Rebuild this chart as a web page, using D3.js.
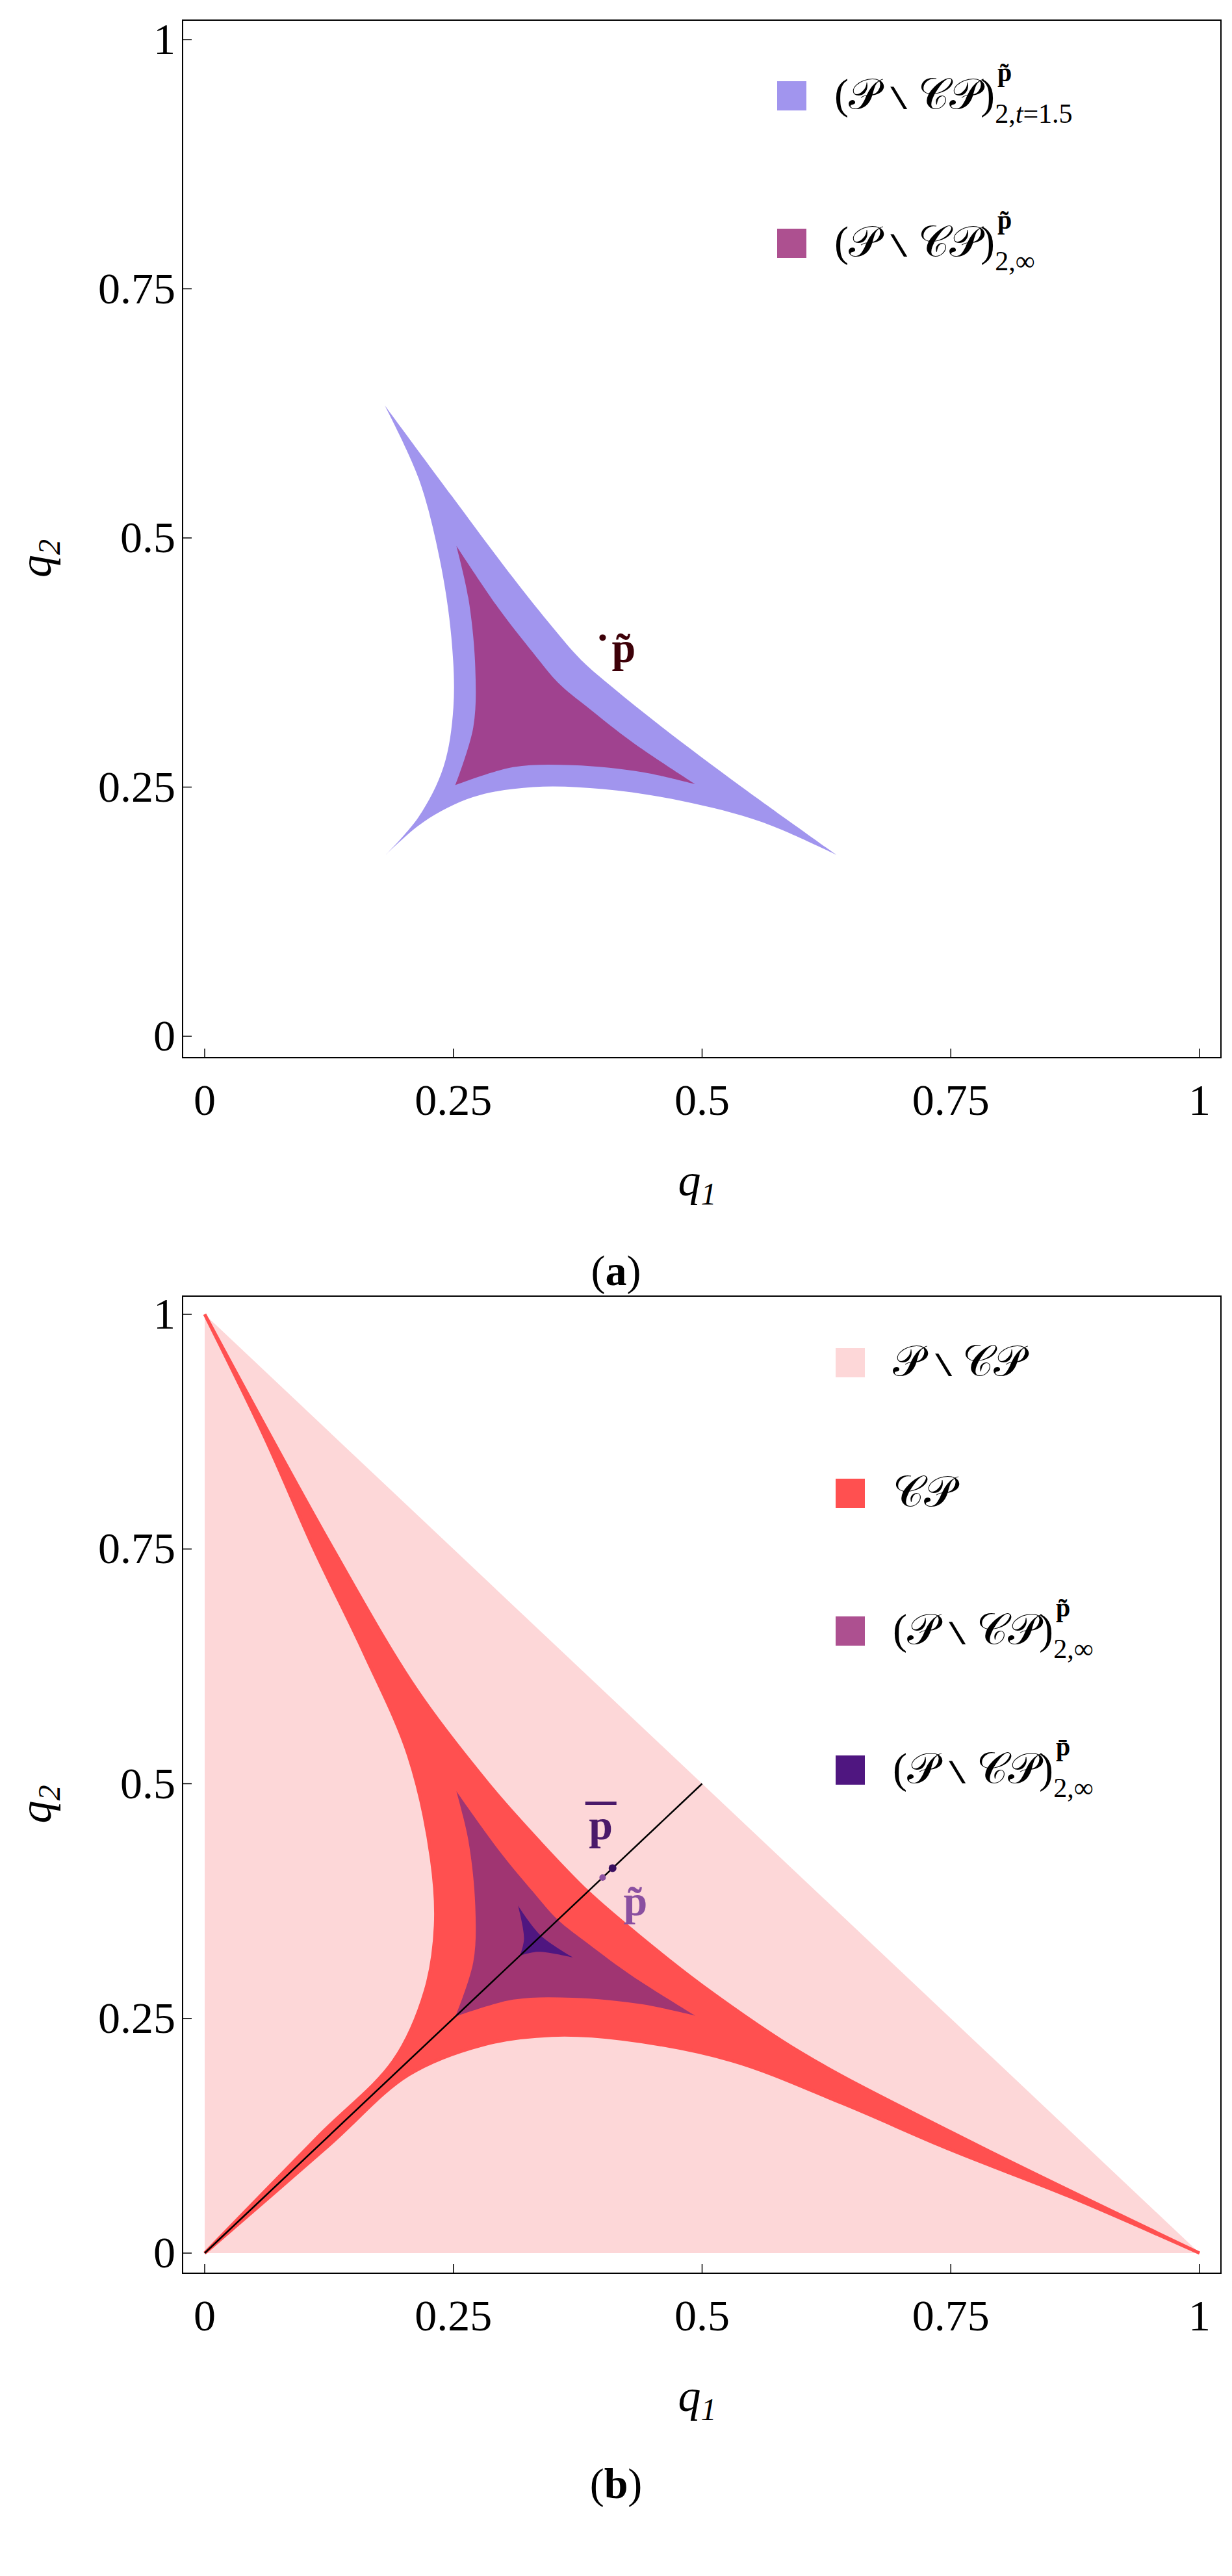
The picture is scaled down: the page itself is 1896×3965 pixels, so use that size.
<!DOCTYPE html>
<html><head><meta charset="utf-8">
<script src="https://cdn.jsdelivr.net/npm/d3@7"></script>
<style>body{margin:0;background:#fff}text{font-family:"Liberation Serif","DejaVu Serif",serif}</style>
</head><body>
<svg id="c" width="1896" height="3965"></svg>
<script>
// tick values
const ticks = [0, 0.25, 0.5, 0.75, 1];
const tickLabels = ["0", "0.25", "0.5", "0.75", "1"];

// region outlines, each as three edges running tip to tip
const blueEdges = [
  [[0.181,0.633],[0.215,0.56],[0.236,0.48],[0.248,0.40],[0.25,0.33],[0.24,0.27],[0.215,0.22],[0.181,0.181]],
  [[0.181,0.181],[0.22,0.215],[0.27,0.24],[0.33,0.25],[0.40,0.248],[0.48,0.236],[0.56,0.215],[0.635,0.182]],
  [[0.635,0.182],[0.54,0.25],[0.46,0.31],[0.41,0.35],[0.378,0.378],[0.35,0.41],[0.31,0.46],[0.25,0.54],[0.181,0.633]]
];
const purpleEdges = [
  [[0.253,0.492],[0.265,0.44],[0.272,0.37],[0.27,0.31],[0.252,0.252]],
  [[0.252,0.252],[0.31,0.27],[0.37,0.272],[0.44,0.265],[0.493,0.253]],
  [[0.493,0.253],[0.43,0.295],[0.385,0.33],[0.355,0.355],[0.33,0.385],[0.295,0.43],[0.253,0.492]]
];
const darkEdges = [
  [[0.315,0.370],[0.321,0.335],[0.317,0.317]],
  [[0.317,0.317],[0.335,0.321],[0.370,0.315]],
  [[0.370,0.315],[0.338,0.338],[0.315,0.370]]
];
const redEdges = [
  [[0,1],[0.06,0.87],[0.11,0.75],[0.16,0.64],[0.205,0.53],[0.228,0.42],[0.232,0.349],[0.222,0.28],[0.19,0.205],[0.115,0.125],[0,0]],
  [[0,0],[0.125,0.115],[0.205,0.19],[0.28,0.222],[0.349,0.232],[0.42,0.228],[0.53,0.205],[0.64,0.16],[0.75,0.11],[0.87,0.06],[1,0]],
  [[1,0],[0.75,0.129],[0.6,0.213],[0.5,0.285],[0.44,0.335],[0.385,0.385],[0.335,0.44],[0.285,0.5],[0.213,0.6],[0.129,0.75],[0,1]]
];
const simplex = [[0,0],[1,0],[0,1]];
const diagLine = [[0,0],[0.5,0.5]];
const pTilde = [0.4, 0.4];
const pBar = [0.41, 0.41];

const svg = d3.select("#c");

function panel(yTop, yBot, frameTop, frameBot) {
  const x = d3.scaleLinear().domain([0,1]).range([315,1846]);
  const y = d3.scaleLinear().domain([0,1]).range([yBot,yTop]);
  const g = svg.append("g");
  const edgeLine = d3.line().x(d=>x(d[0])).y(d=>y(d[1])).curve(d3.curveCatmullRom);
  const region = edges => edges.map((e,i)=>{ const s = edgeLine(e); return i ? "L" + s.slice(1) : s; }).join("") + "Z";
  g.append("rect").attr("x",281).attr("y",frameTop).attr("width",1879-281).attr("height",frameBot-frameTop)
    .attr("fill","none").attr("stroke","#000").attr("stroke-width",2);
  ticks.forEach((t,i)=>{
    g.append("line").attr("x1",281).attr("x2",295).attr("y1",y(t)).attr("y2",y(t)).attr("stroke","#000").attr("stroke-width",1.5);
    g.append("line").attr("x1",x(t)).attr("x2",x(t)).attr("y1",frameBot).attr("y2",frameBot-14).attr("stroke","#000").attr("stroke-width",1.5);
    g.append("text").attr("x",270).attr("y",y(t)+22).attr("text-anchor","end").attr("font-size",68).text(tickLabels[i]);
    g.append("text").attr("x",x(t)).attr("y",frameBot+88).attr("text-anchor","middle").attr("font-size",68).text(tickLabels[i]);
  });
  g.append("text").attr("x",1073).attr("y",frameBot+212).attr("text-anchor","middle").attr("font-size",70).attr("font-style","italic")
    .html('q<tspan font-size="48" dy="14">1</tspan>');
  g.append("text").attr("transform",`translate(78,${(frameTop+frameBot)/2+30}) rotate(-90)`).attr("text-anchor","middle").attr("font-size",70).attr("font-style","italic")
    .html('q<tspan font-size="48" dy="14">2</tspan>');
  return {g, x, y, region};
}

function legend(g, lx, ly, color, main, sup, sub) {
  g.append("rect").attr("x",lx).attr("y",ly).attr("width",45).attr("height",45).attr("fill",color);
  const t = g.append("text").attr("x",lx+88).attr("y",ly+42).attr("font-size",66);
  t.append("tspan").text(main);
  if (sup) {
    t.append("tspan").attr("font-size",40).attr("font-weight","bold").attr("dy",-42).attr("dx",4).text(sup);
    t.append("tspan").attr("font-size",42).attr("dy",64).attr("dx",-26).html(sub);
  }
}
const setLabel = "(𝒫 ∖ 𝒞𝒫)";

// panel (a)
const A = panel(61, 1595, 31, 1628);
A.g.append("path").attr("d",A.region(blueEdges)).attr("fill","#a195ee");
A.g.append("path").attr("d",A.region(purpleEdges)).attr("fill","#a0428f");
A.g.append("circle").attr("cx",A.x(pTilde[0])).attr("cy",A.y(pTilde[1])).attr("r",5).attr("fill","#3d0008");
A.g.append("text").attr("x",A.x(pTilde[0])+14).attr("y",A.y(pTilde[1])+38).attr("font-size",66).attr("font-weight","bold").attr("fill","#3d0008").text("p̃");
legend(A.g, 1196, 125, "#a195ee", setLabel, "p̃", '2,<tspan font-style="italic">t</tspan>=1.5');
legend(A.g, 1196, 352, "#ad5090", setLabel, "p̃", "2,∞");
svg.append("text").attr("x",948).attr("y",1978).attr("text-anchor","middle").attr("font-size",66).html('(<tspan font-weight="bold">a</tspan>)');

// panel (b)
const B = panel(2023, 3468, 1995, 3499);
B.g.append("path").attr("d",d3.line().x(d=>B.x(d[0])).y(d=>B.y(d[1]))(simplex)+"Z").attr("fill","#fdd7d8");
B.g.append("path").attr("d",B.region(redEdges)).attr("fill","#ff5050").attr("stroke","#ff5050").attr("stroke-width",5).attr("stroke-linejoin","miter");
B.g.append("path").attr("d",B.region(purpleEdges)).attr("fill","#a03572");
B.g.append("path").attr("d",B.region(darkEdges)).attr("fill","#4f1680");
B.g.append("path").attr("d",d3.line().x(d=>B.x(d[0])).y(d=>B.y(d[1]))(diagLine)).attr("stroke","#000").attr("stroke-width",2.5);
B.g.append("circle").attr("cx",B.x(pTilde[0])).attr("cy",B.y(pTilde[1])).attr("r",5).attr("fill","#8a4fa0");
B.g.append("circle").attr("cx",B.x(pBar[0])).attr("cy",B.y(pBar[1])).attr("r",6).attr("fill","#3a1060");
B.g.append("text").attr("x",B.x(pBar[0])-18).attr("y",B.y(pBar[1])-45).attr("text-anchor","middle").attr("font-size",66).attr("font-weight","bold").attr("fill","#4a1a6a").text("p");
B.g.append("line").attr("x1",B.x(pBar[0])-42).attr("x2",B.x(pBar[0])+6).attr("y1",B.y(pBar[1])-100).attr("y2",B.y(pBar[1])-100).attr("stroke","#4a1a6a").attr("stroke-width",5);
B.g.append("text").attr("x",B.x(pTilde[0])+32).attr("y",B.y(pTilde[1])+58).attr("font-size",66).attr("font-weight","bold").attr("fill","#8a4fa0").text("p̃");
legend(B.g, 1286, 2075, "#fdd7d8", "𝒫 ∖ 𝒞𝒫");
legend(B.g, 1286, 2276, "#ff5050", "𝒞𝒫");
legend(B.g, 1286, 2488, "#ad5090", setLabel, "p̃", "2,∞");
legend(B.g, 1286, 2702, "#4f1680", setLabel, "p̄", "2,∞");
svg.append("text").attr("x",948).attr("y",3845).attr("text-anchor","middle").attr("font-size",66).html('(<tspan font-weight="bold">b</tspan>)');
</script>
</body></html>
